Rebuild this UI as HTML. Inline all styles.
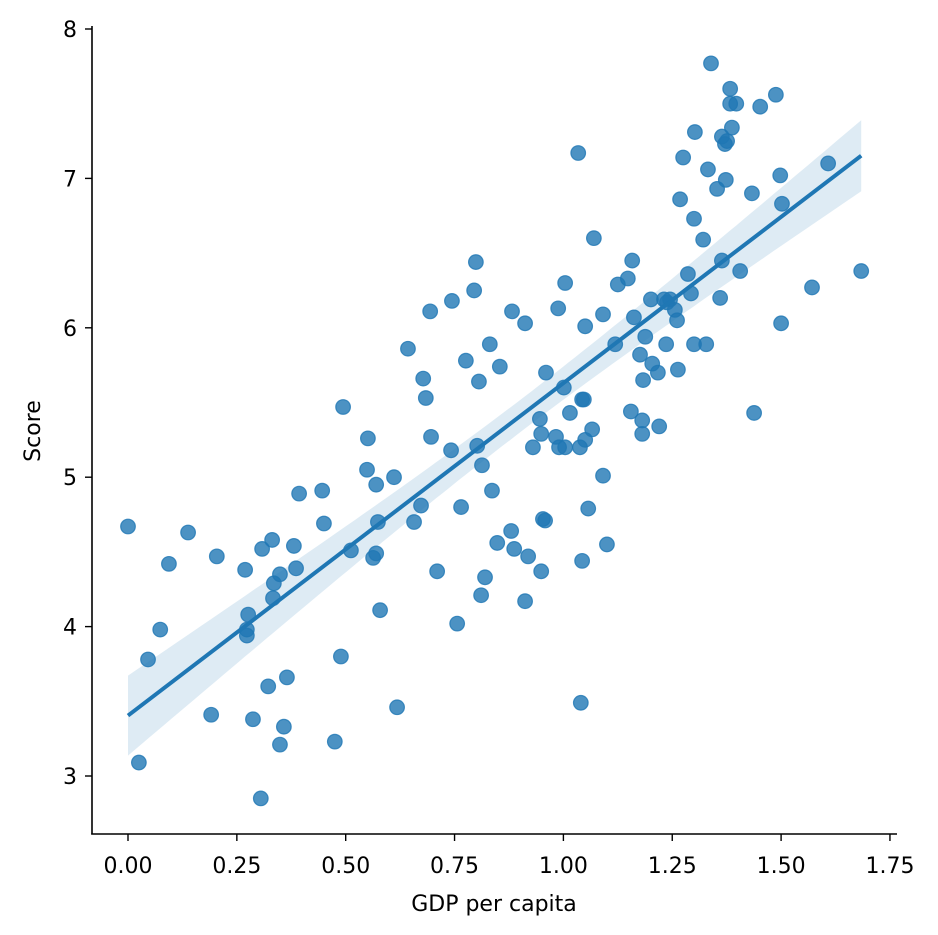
<!DOCTYPE html>
<html><head><meta charset="utf-8"><style>
html,body{margin:0;padding:0;background:#fff}
svg{display:block;font-family:"DejaVu Sans","Liberation Sans",sans-serif}
</style></head><body>
<svg id="chart" width="938" height="935">
<g id="band-g"></g>
<g id="pts"></g>
<g id="line-g"></g>
<g id="axes"></g>
</svg>
<script>
const gdp=[0.00,0.025,0.046,0.074,0.094,0.138,0.191,0.204,0.269,0.276,0.273,0.273,0.287,0.308,0.322,0.331,0.335,0.333,0.349,0.358,0.365,0.349,0.305,0.381,0.386,0.393,0.446,0.450,0.475,0.489,0.494,0.512,0.551,0.549,0.563,0.570,0.570,0.574,0.579,0.611,0.618,0.643,0.657,0.673,0.678,0.684,0.694,0.696,0.710,0.742,0.744,0.756,0.765,0.776,0.795,0.799,0.802,0.806,0.813,0.811,0.820,0.831,0.836,0.848,0.854,0.880,0.882,0.887,0.912,0.919,0.912,0.930,0.946,0.949,0.949,0.953,0.958,0.960,0.983,0.988,0.990,1.001,1.004,1.004,1.015,1.034,1.038,1.043,1.040,1.043,1.050,1.047,1.050,1.057,1.066,1.070,1.091,1.091,1.100,1.119,1.125,1.148,1.155,1.158,1.162,1.176,1.181,1.181,1.183,1.188,1.201,1.204,1.217,1.220,1.231,1.238,1.236,1.245,1.256,1.261,1.263,1.268,1.275,1.286,1.293,1.300,1.300,1.302,1.321,1.328,1.332,1.339,1.353,1.360,1.364,1.364,1.371,1.373,1.376,1.383,1.383,1.387,1.397,1.406,1.433,1.438,1.452,1.488,1.498,1.500,1.502,1.571,1.608,1.684];
const score=[4.67,3.09,3.78,3.98,4.42,4.63,3.41,4.47,4.38,4.08,3.98,3.94,3.38,4.52,3.60,4.58,4.29,4.19,4.35,3.33,3.66,3.21,2.85,4.54,4.39,4.89,4.91,4.69,3.23,3.80,5.47,4.51,5.26,5.05,4.46,4.49,4.95,4.70,4.11,5.00,3.46,5.86,4.70,4.81,5.66,5.53,6.11,5.27,4.37,5.18,6.18,4.02,4.80,5.78,6.25,6.44,5.21,5.64,5.08,4.21,4.33,5.89,4.91,4.56,5.74,4.64,6.11,4.52,6.03,4.47,4.17,5.20,5.39,4.37,5.29,4.72,4.71,5.70,5.27,6.13,5.20,5.60,6.30,5.20,5.43,7.17,5.20,4.44,3.49,5.52,6.01,5.52,5.25,4.79,5.32,6.60,5.01,6.09,4.55,5.89,6.29,6.33,5.44,6.45,6.07,5.82,5.38,5.29,5.65,5.94,6.19,5.76,5.70,5.34,6.19,6.17,5.89,6.19,6.12,6.05,5.72,6.86,7.14,6.36,6.23,5.89,6.73,7.31,6.59,5.89,7.06,7.77,6.93,6.20,7.28,6.45,7.23,6.99,7.25,7.60,7.50,7.34,7.50,6.38,6.90,5.43,7.48,7.56,7.02,6.03,6.83,6.27,7.10,6.38];
const xTicks=[0,0.25,0.5,0.75,1.0,1.25,1.5,1.75];
const xTickLabels=["0.00","0.25","0.50","0.75","1.00","1.25","1.50","1.75"];
const yTicks=[3,4,5,6,7,8];
const yTickLabels=["3","4","5","6","7","8"];

const NS="http://www.w3.org/2000/svg";
const sx=v=>128+v*435.4;
const sy=v=>776-(v-3)*149.4;
function mk(tag,attrs,parent,text){const e=document.createElementNS(NS,tag);for(const k in attrs)e.setAttribute(k,attrs[k]);if(text!==undefined)e.textContent=text;parent.appendChild(e);return e;}
const C="#1f77b4";

const n=gdp.length;
const mx=gdp.reduce((a,b)=>a+b,0)/n, my=score.reduce((a,b)=>a+b,0)/n;
let sxx=0,sxy=0;for(let i=0;i<n;i++){sxx+=(gdp[i]-mx)**2;sxy+=(gdp[i]-mx)*(score[i]-my);}
const b1=sxy/sxx,b0=my-b1*mx;
let sse=0;for(let i=0;i<n;i++){sse+=(score[i]-b0-b1*gdp[i])**2;}
const s=Math.sqrt(sse/(n-2)),t=1.976;
const xmin=Math.min(...gdp),xmax=Math.max(...gdp);
const up=[],lo=[];
for(let k=0;k<=100;k++){const x=xmin+(xmax-xmin)*k/100;const yh=b0+b1*x;const se=s*Math.sqrt(1/n+(x-mx)**2/sxx);up.push(sx(x).toFixed(1)+","+sy(yh+t*se).toFixed(1));lo.unshift(sx(x).toFixed(1)+","+sy(yh-t*se).toFixed(1));}
const band=mk("polygon",{points:up.concat(lo).join(" "),fill:C,"fill-opacity":"0.15",stroke:"none"},document.getElementById("band-g"));



const pg=document.getElementById("pts");
for(let i=0;i<n;i++){
  const c=mk("circle",{cx:sx(gdp[i]),cy:sy(score[i]),r:7.3,fill:C,"fill-opacity":"0.8",stroke:C,"stroke-opacity":"0.8","stroke-width":"1.2"},pg);
  
  
}
const ln=mk("line",{x1:sx(xmin),y1:sy(b0+b1*xmin),x2:sx(xmax),y2:sy(b0+b1*xmax),stroke:C,"stroke-width":"4"},document.getElementById("line-g"));



const ax=document.getElementById("axes");
const ys=mk("line",{x1:92,y1:26,x2:92,y2:834.5,stroke:"#000","stroke-width":"1.6"},ax);


const xs=mk("line",{x1:91.2,y1:834,x2:897,y2:834,stroke:"#000","stroke-width":"1.6"},ax);


xTicks.forEach((v,i)=>{
  const tk=mk("line",{x1:sx(v),y1:834,x2:sx(v),y2:841,stroke:"#000","stroke-width":"1.4"},ax);
  
  
  const tl=mk("text",{x:sx(v),y:873,"text-anchor":"middle","font-size":"22",fill:"#000"},ax,xTickLabels[i]);
  
  
});
yTicks.forEach((v,i)=>{
  const tk=mk("line",{x1:85,y1:sy(v),x2:92,y2:sy(v),stroke:"#000","stroke-width":"1.4"},ax);
  
  
  const tl=mk("text",{x:77,y:sy(v)+8,"text-anchor":"end","font-size":"22",fill:"#000"},ax,yTickLabels[i]);
  
  
});
const xt=mk("text",{x:494,y:911,"text-anchor":"middle","font-size":"22",fill:"#000"},ax,"GDP per capita");


const yt=mk("text",{x:40,y:431,"text-anchor":"middle","font-size":"22",fill:"#000",transform:"rotate(-90 40 431)"},ax,"Score");


</script>
</body></html>
